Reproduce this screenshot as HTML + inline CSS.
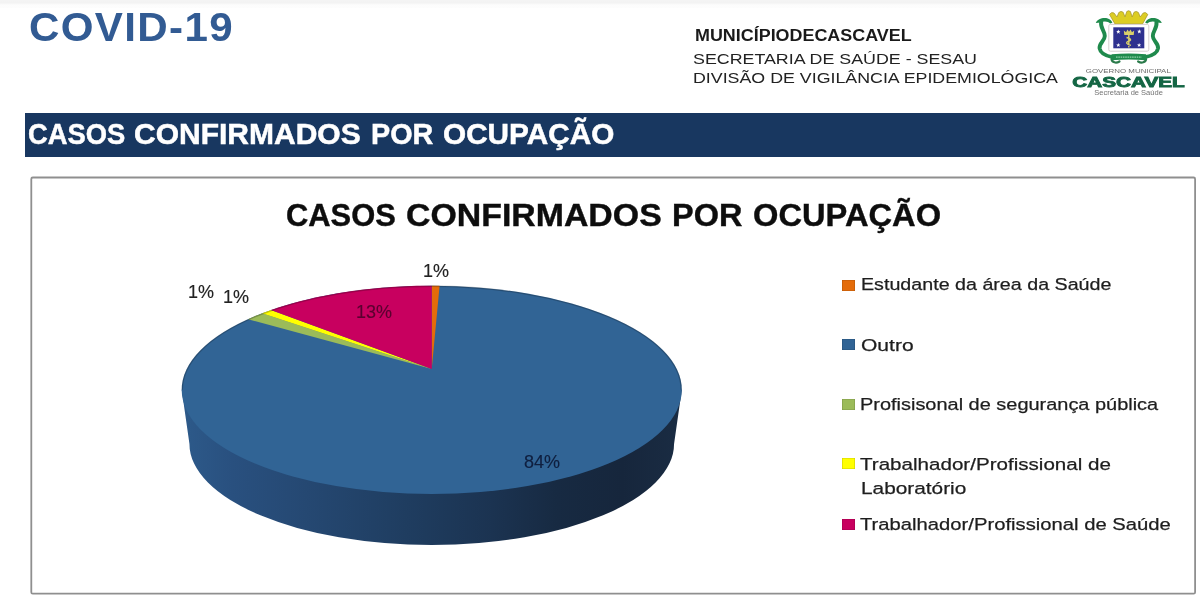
<!DOCTYPE html>
<html><head><meta charset="utf-8">
<style>
*{margin:0;padding:0;box-sizing:border-box}
html,body{width:1200px;height:600px;overflow:hidden;background:#fff}
body{position:relative;font-family:"Liberation Sans",sans-serif}
#wrap{position:absolute;left:0;top:0;width:1200px;height:600px;filter:blur(0.45px)}
.t{position:absolute;white-space:nowrap;line-height:1;transform-origin:0 0}
#topbar{position:absolute;left:0;top:0;width:1200px;height:8px;background:linear-gradient(#f4f4f4 0,#f3f3f3 3px,#f9f9f9 4px,#fcfcfc 5px,#fdfdfd 8px)}
.c-covid{font-weight:bold;color:#325b93}
.c-h1{font-weight:bold;color:#1a1a1a}
.c-h2{color:#222}
.c-b{font-weight:bold;color:#fff;-webkit-text-stroke:0.5px #fff}
.c-t{font-weight:bold;color:#0d0d0d;-webkit-text-stroke:0.4px #0d0d0d}
.c-g{color:#1e1e1e;-webkit-text-stroke:0.25px #1e1e1e}
#banner{position:absolute;left:25px;top:113px;width:1175px;height:44px;background:#183760}
.lab{position:absolute;white-space:nowrap;line-height:1;font-size:18px;color:#222;-webkit-text-stroke:0.15px currentColor}
.sq{position:absolute;width:12.7px;height:11.1px;box-shadow:inset 0 0 0 0.6px rgba(0,0,0,0.18)}
</style></head><body><div id="wrap">
<div id="topbar"></div>
<svg id="logo" width="1200" height="100" viewBox="0 0 1200 100" style="position:absolute;left:0;top:0">
<g>
<path d="M1095.8,23 C1097.5,18.8 1103.5,17.2 1107.8,18.6 C1110.2,19.5 1111.8,21 1112.4,22.8 L1110.2,23.6 C1108.5,21.6 1104.2,20.8 1100.6,22.6 Z" fill="#1f8a4c"/>
<path d="M1101.2,21.8 C1100,28 1104.8,31 1104.8,36 C1104.8,41 1098.8,43 1099.6,48.5 C1100.4,53 1105.5,55.8 1112.5,57.2" fill="none" stroke="#1f8a4c" stroke-width="3.9" stroke-linecap="round"/>
<path d="M1111.5,59 C1112,62.5 1116,63.5 1119.5,61.5" fill="none" stroke="#2a7a4a" stroke-width="2.2" stroke-linecap="round"/>
</g>
<g transform="translate(2257.6,0) scale(-1,1)">
<path d="M1095.8,23 C1097.5,18.8 1103.5,17.2 1107.8,18.6 C1110.2,19.5 1111.8,21 1112.4,22.8 L1110.2,23.6 C1108.5,21.6 1104.2,20.8 1100.6,22.6 Z" fill="#1f8a4c"/>
<path d="M1101.2,21.8 C1100,28 1104.8,31 1104.8,36 C1104.8,41 1098.8,43 1099.6,48.5 C1100.4,53 1105.5,55.8 1112.5,57.2" fill="none" stroke="#1f8a4c" stroke-width="3.9" stroke-linecap="round"/>
<path d="M1111.5,59 C1112,62.5 1116,63.5 1119.5,61.5" fill="none" stroke="#2a7a4a" stroke-width="2.2" stroke-linecap="round"/>
</g>
<path d="M1115,24 L1109.5,14.5 Q1111.5,11.5 1114,13 L1117,17 L1118.8,12.5 Q1121,10.5 1123.2,12.3 L1125,17 L1126.8,11.5 Q1128.6,10 1130.4,11.5 L1132.2,17 L1134,12.3 Q1136.2,10.5 1138.4,12.5 L1140.2,17 L1143.2,13 Q1145.7,11.5 1147.8,14.5 L1142.5,24 Z" fill="#dccd24" stroke="#a99b30" stroke-width="0.8"/>
<rect x="1108.8" y="24.4" width="40" height="26.8" rx="1.5" fill="#fff" stroke="#d6d0d0" stroke-width="1"/>
<rect x="1113.3" y="27.3" width="31" height="21" fill="#2e318f"/>
<g fill="#fff">
<path d="M0,-2.2 L0.6,-0.7 L2.1,-0.7 L0.9,0.3 L1.4,1.9 L0,0.9 L-1.4,1.9 L-0.9,0.3 L-2.1,-0.7 L-0.6,-0.7Z" transform="translate(1118.3,31.8)"/>
<path d="M0,-2.2 L0.6,-0.7 L2.1,-0.7 L0.9,0.3 L1.4,1.9 L0,0.9 L-1.4,1.9 L-0.9,0.3 L-2.1,-0.7 L-0.6,-0.7Z" transform="translate(1139.3,31.5)"/>
<path d="M0,-2.2 L0.6,-0.7 L2.1,-0.7 L0.9,0.3 L1.4,1.9 L0,0.9 L-1.4,1.9 L-0.9,0.3 L-2.1,-0.7 L-0.6,-0.7Z" transform="translate(1118.3,45.1)"/>
<path d="M0,-2.2 L0.6,-0.7 L2.1,-0.7 L0.9,0.3 L1.4,1.9 L0,0.9 L-1.4,1.9 L-0.9,0.3 L-2.1,-0.7 L-0.6,-0.7Z" transform="translate(1139.1,45.1)"/>
</g>
<path d="M1124.3,35 L1123.8,30.5 L1126,32.3 L1127.5,29.5 L1129,31.8 L1130.5,29.5 L1132,32.3 L1134.2,30.5 L1133.7,35 Z" fill="#d9cf6a"/>
<path d="M1128.8,35 L1128.8,47.5 M1126.5,37.5 C1131.5,38.5 1131.5,40.5 1128.5,41.3 C1125.5,42 1126,44.5 1131,45.3" fill="none" stroke="#d9cf6a" stroke-width="1.4"/>
<path d="M1111.5,54.3 Q1128.8,52.8 1146.1,54.3 L1146.1,60.2 Q1128.8,58.8 1111.5,60.2 Z" fill="#1f8a4c"/>
<path d="M1116,57.2 L1141.6,57.2" stroke="#8fd0a8" stroke-width="1.3" stroke-dasharray="1.6 0.7"/>
<text x="1128.3" y="72.6" text-anchor="middle" font-family="Liberation Sans" font-size="6" fill="#6a6a6a" textLength="85" lengthAdjust="spacingAndGlyphs">GOVERNO MUNICIPAL</text>
<text x="1128.5" y="86.9" text-anchor="middle" font-family="Liberation Sans" font-weight="bold" font-size="15" fill="#146644" stroke="#146644" stroke-width="0.9" textLength="112.6" lengthAdjust="spacingAndGlyphs">CASCAVEL</text>
<text x="1128.6" y="94.6" text-anchor="middle" font-family="Liberation Sans" font-size="6.3" fill="#727272" textLength="68.5" lengthAdjust="spacingAndGlyphs">Secretaria de Saúde</text>
</svg>

<div id="banner"></div>
<svg id="box" width="1200" height="600" style="position:absolute;left:0;top:0"><rect x="31.3" y="177.5" width="1163.8" height="416.2" rx="1.5" fill="none" stroke="#8f8f8f" stroke-width="1.8"/></svg>
<svg id="pie" width="1200" height="600" viewBox="0 0 1200 600" style="position:absolute;left:0;top:0">
<defs><linearGradient id="sg" gradientUnits="userSpaceOnUse" x1="182" y1="0" x2="682" y2="0">
<stop offset="0" stop-color="#2d5a8a"/><stop offset="0.1" stop-color="#29507f"/><stop offset="0.25" stop-color="#254872"/><stop offset="0.45" stop-color="#1f3d60"/><stop offset="0.62" stop-color="#1b3351"/><stop offset="0.75" stop-color="#172a42"/><stop offset="0.88" stop-color="#16263c"/><stop offset="1" stop-color="#1a2c43"/></linearGradient></defs>
<path fill="url(#sg)" d="M181.70,389.83 L681.80,389.83 L674.05,443.90 A242.30,101.10 0 0 1 189.45,443.90 Z"/>
<ellipse cx="431.75" cy="389.83" rx="250.05" ry="104.17" fill="#316495"/>
<path fill="#e46c0a" d="M431.75,369.00 L431.75,285.67 L433.71,285.67 L435.67,285.68 L437.63,285.70 L439.59,285.72Z"/>
<path fill="#9bbb59" d="M431.75,369.00 L248.02,319.18 L250.75,317.96 L253.53,316.77 L256.34,315.60 L259.19,314.45 L262.08,313.32Z"/>
<path fill="#ffff00" d="M431.75,369.00 L262.08,313.32 L264.25,312.49 L266.44,311.68 L268.65,310.88 L270.88,310.09Z"/>
<path fill="#c8005f" d="M431.75,369.00 L270.88,310.09 L275.00,308.68 L279.17,307.31 L283.40,305.98 L287.68,304.69 L292.01,303.45 L296.40,302.25 L300.83,301.09 L305.30,299.97 L309.82,298.89 L314.39,297.85 L318.99,296.86 L323.63,295.91 L328.30,295.00 L333.01,294.13 L337.75,293.31 L342.52,292.52 L347.32,291.78 L352.15,291.09 L357.01,290.43 L361.88,289.82 L366.78,289.24 L371.70,288.71 L376.64,288.23 L381.60,287.78 L386.57,287.38 L391.55,287.02 L396.55,286.70 L401.56,286.43 L406.58,286.20 L411.60,286.01 L416.63,285.86 L421.67,285.75 L426.71,285.69 L431.75,285.67Z"/>
<path d="M182.3,389.83 A249.45,103.57 0 0 1 681.2,389.83" fill="none" stroke="#000" stroke-opacity="0.22" stroke-width="1.3"/>
</svg>
<div class="t c-covid" id="covid" style="left:29.46px;top:7.00px;font-size:40.50px;letter-spacing:1.280px;transform:scaleX(1.0400)">COVID-19</div>
<div class="t c-h1" id="h1" style="left:694.63px;top:28.00px;font-size:16.00px;transform:scaleX(1.1195)">MUNICÍPIODECASCAVEL</div>
<div class="t c-h2" id="h2" style="left:693.25px;top:51.00px;font-size:15.50px;transform:scaleX(1.1500)">SECRETARIA DE SAÚDE - SESAU</div>
<div class="t c-h2" id="h3" style="left:692.70px;top:70.00px;font-size:15.50px;transform:scaleX(1.1483)">DIVISÃO DE VIGILÂNCIA EPIDEMIOLÓGICA</div>
<div class="t c-b" id="b1" style="left:28.37px;top:119.00px;font-size:29.51px;transform:scaleX(0.9271)">CASOS</div>
<div class="t c-b" id="b2" style="left:133.98px;top:119.00px;font-size:29.51px;transform:scaleX(1.0172)">CONFIRMADOS</div>
<div class="t c-b" id="b3" style="left:371.03px;top:119.00px;font-size:29.51px;transform:scaleX(0.9741)">POR</div>
<div class="t c-b" id="b4" style="left:442.99px;top:119.00px;font-size:29.51px;transform:scaleX(1.0080)">OCUPAÇÃO</div>
<div class="t c-t" id="t1" style="left:285.74px;top:199.00px;font-size:32.27px;transform:scaleX(0.9569)">CASOS</div>
<div class="t c-t" id="t2" style="left:405.95px;top:199.00px;font-size:32.27px;transform:scaleX(1.0490)">CONFIRMADOS</div>
<div class="t c-t" id="t3" style="left:671.99px;top:199.00px;font-size:32.27px;transform:scaleX(1.0060)">POR</div>
<div class="t c-t" id="t4" style="left:752.99px;top:199.00px;font-size:32.27px;transform:scaleX(1.0122)">OCUPAÇÃO</div>
<div class="t c-g" id="g1" style="left:860.62px;top:276.00px;font-size:17.40px;transform:scaleX(1.1310)">Estudante da área da Saúde</div>
<div class="t c-g" id="g2" style="left:860.70px;top:337.00px;font-size:17.40px;transform:scaleX(1.2097)">Outro</div>
<div class="t c-g" id="g3" style="left:860.15px;top:396.00px;font-size:17.40px;transform:scaleX(1.1466)">Profisisonal de segurança pública</div>
<div class="t c-g" id="g4" style="left:860.40px;top:456.00px;font-size:17.40px;transform:scaleX(1.1833)">Trabalhador/Profissional de</div>
<div class="t c-g" id="g5" style="left:860.50px;top:480.00px;font-size:17.40px;transform:scaleX(1.1969)">Laboratório</div>
<div class="t c-g" id="g6" style="left:860.30px;top:516.00px;font-size:17.40px;transform:scaleX(1.1634)">Trabalhador/Profissional de Saúde</div>

<div class="lab" id="l1" style="left:423px;top:262px">1%</div>
<div class="lab" id="l2" style="left:188px;top:283px">1%</div>
<div class="lab" id="l3" style="left:223px;top:288px">1%</div>
<div class="lab" id="l4" style="left:356px;top:303px;color:#5a0030">13%</div>
<div class="lab" id="l5" style="left:524px;top:453px;color:#0f1f3f">84%</div>
<div class="sq" style="left:842.3px;top:279.5px;background:#e46c0a"></div>
<div class="sq" style="left:842.3px;top:339.2px;background:#316495"></div>
<div class="sq" style="left:842.3px;top:399px;background:#9bbb59"></div>
<div class="sq" style="left:842.3px;top:458.4px;background:#ffff00"></div>
<div class="sq" style="left:842.3px;top:518.6px;background:#c8005f"></div>
</div></body></html>
